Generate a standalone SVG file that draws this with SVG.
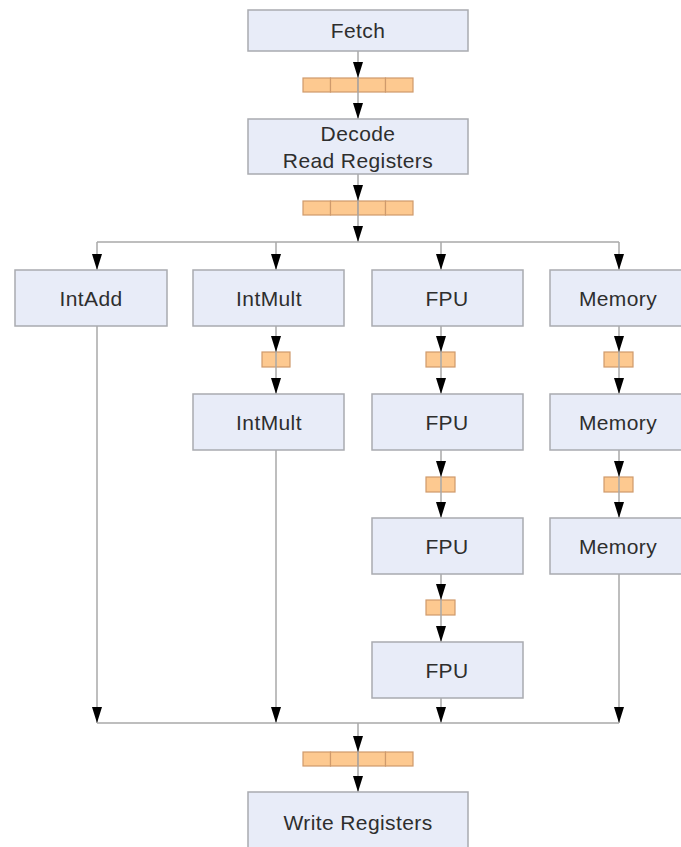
<svg xmlns="http://www.w3.org/2000/svg" width="681" height="847" viewBox="0 0 681 847">
<defs>
<style>
.box{fill:#e8ecf8;stroke:#a9abb0;stroke-width:1.5}
.reg{fill:#fdc990;stroke:#cf9a6c;stroke-width:1.2}
.lbl{font-family:"Liberation Sans",Arial,sans-serif;font-size:21px;letter-spacing:0.4px;fill:#2e2e2e;text-anchor:middle;dominant-baseline:central}
.c{stroke:#a8a8a8;stroke-width:1.5;fill:none}
</style>
<marker id="ah2" markerUnits="userSpaceOnUse" viewBox="0 0 16 10" refX="16" refY="5" markerWidth="16" markerHeight="10" orient="auto">
<path d="M0,0 L16,5 L0,10 Z" fill="#000"/>
</marker>
<g id="bigreg">
<rect class="reg" x="0" y="0" width="27.5" height="14"/>
<rect class="reg" x="27.5" y="0" width="27.5" height="14"/>
<rect class="reg" x="55" y="0" width="27.5" height="14"/>
<rect class="reg" x="82.5" y="0" width="27.5" height="14"/>
</g>
</defs>
<rect width="681" height="847" fill="#fff"/>

<g id="regs">
<use href="#bigreg" x="303" y="78"/>
<use href="#bigreg" x="303" y="201"/>
<use href="#bigreg" x="303" y="752"/>
<rect class="reg" x="262" y="352" width="28" height="15"/>
<rect class="reg" x="426" y="352" width="29" height="15"/>
<rect class="reg" x="604" y="352" width="29" height="15"/>
<rect class="reg" x="426" y="477" width="29" height="15"/>
<rect class="reg" x="604" y="477" width="29" height="15"/>
<rect class="reg" x="426" y="600" width="29" height="15"/>
</g>

<g id="connectors">
<path class="c" d="M358 51 V 78" marker-end="url(#ah2)"/>
<path class="c" d="M358 78 V 119" marker-end="url(#ah2)"/>
<path class="c" d="M358 174 V 201" marker-end="url(#ah2)"/>
<path class="c" d="M358 201 V 242" marker-end="url(#ah2)"/>
<path class="c" d="M97 242 H 619"/>
<path class="c" d="M97 242 V 270" marker-end="url(#ah2)"/>
<path class="c" d="M276 242 V 270" marker-end="url(#ah2)"/>
<path class="c" d="M441 242 V 270" marker-end="url(#ah2)"/>
<path class="c" d="M619 242 V 270" marker-end="url(#ah2)"/>
<path class="c" d="M97 326 V 723" marker-end="url(#ah2)"/>
<path class="c" d="M276 326 V 352" marker-end="url(#ah2)"/>
<path class="c" d="M276 352 V 394" marker-end="url(#ah2)"/>
<path class="c" d="M276 450 V 723" marker-end="url(#ah2)"/>
<path class="c" d="M441 326 V 352" marker-end="url(#ah2)"/>
<path class="c" d="M441 352 V 394" marker-end="url(#ah2)"/>
<path class="c" d="M441 450 V 477" marker-end="url(#ah2)"/>
<path class="c" d="M441 477 V 518" marker-end="url(#ah2)"/>
<path class="c" d="M441 574 V 600" marker-end="url(#ah2)"/>
<path class="c" d="M441 600 V 642" marker-end="url(#ah2)"/>
<path class="c" d="M441 698 V 723" marker-end="url(#ah2)"/>
<path class="c" d="M619 326 V 352" marker-end="url(#ah2)"/>
<path class="c" d="M619 352 V 394" marker-end="url(#ah2)"/>
<path class="c" d="M619 450 V 477" marker-end="url(#ah2)"/>
<path class="c" d="M619 477 V 518" marker-end="url(#ah2)"/>
<path class="c" d="M619 574 V 723" marker-end="url(#ah2)"/>
<path class="c" d="M97 723 H 619"/>
<path class="c" d="M358 723 V 752" marker-end="url(#ah2)"/>
<path class="c" d="M358 752 V 792" marker-end="url(#ah2)"/>
</g>

<g id="fetch"><rect class="box" x="248" y="10" width="220" height="41"/><text class="lbl" x="358" y="30">Fetch</text></g>
<g id="decode"><rect class="box" x="248" y="119" width="220" height="55"/><text class="lbl" x="358" y="133">Decode</text><text class="lbl" x="358" y="160">Read Registers</text></g>
<g id="intadd"><rect class="box" x="15" y="270" width="152" height="56"/><text class="lbl" x="91" y="298">IntAdd</text></g>
<g id="intmult1"><rect class="box" x="193" y="270" width="151" height="56"/><text class="lbl" x="269" y="298">IntMult</text></g>
<g id="fpu1"><rect class="box" x="372" y="270" width="151" height="56"/><text class="lbl" x="447" y="298">FPU</text></g>
<g id="memory1"><rect class="box" x="550" y="270" width="151" height="56"/><text class="lbl" x="618" y="298">Memory</text></g>
<g id="intmult2"><rect class="box" x="193" y="394" width="151" height="56"/><text class="lbl" x="269" y="422">IntMult</text></g>
<g id="fpu2"><rect class="box" x="372" y="394" width="151" height="56"/><text class="lbl" x="447" y="422">FPU</text></g>
<g id="memory2"><rect class="box" x="550" y="394" width="151" height="56"/><text class="lbl" x="618" y="422">Memory</text></g>
<g id="fpu3"><rect class="box" x="372" y="518" width="151" height="56"/><text class="lbl" x="447" y="546">FPU</text></g>
<g id="memory3"><rect class="box" x="550" y="518" width="151" height="56"/><text class="lbl" x="618" y="546">Memory</text></g>
<g id="fpu4"><rect class="box" x="372" y="642" width="151" height="56"/><text class="lbl" x="447" y="670">FPU</text></g>
<g id="write"><rect class="box" x="248" y="792" width="220" height="70"/><text class="lbl" x="358" y="822">Write Registers</text></g>
</svg>
